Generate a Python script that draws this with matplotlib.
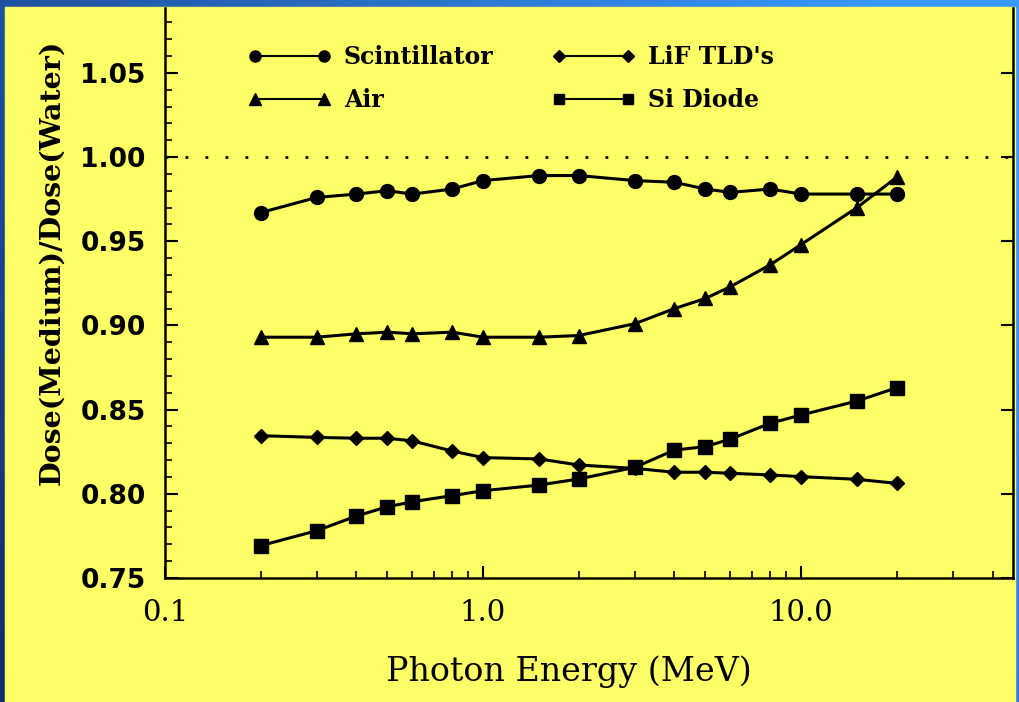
import numpy as np
import matplotlib
matplotlib.use("Agg")
import matplotlib.pyplot as plt
from matplotlib.lines import Line2D
from matplotlib.ticker import FixedLocator, NullFormatter

# ---- data ----
energy = [0.2, 0.3, 0.4, 0.5, 0.6, 0.8, 1.0, 1.5, 2.0, 3.0, 4.0, 5.0, 6.0, 8.0, 10.0, 15.0, 20.0]
scintillator = [0.967, 0.976, 0.978, 0.980, 0.978, 0.981, 0.986, 0.989, 0.989, 0.986, 0.985, 0.981, 0.979, 0.981, 0.978, 0.978, 0.978]
air = [0.893, 0.893, 0.895, 0.896, 0.895, 0.896, 0.893, 0.893, 0.894, 0.901, 0.910, 0.916, 0.923, 0.936, 0.948, 0.970, 0.988]
lif_tld = [0.8345, 0.8335, 0.833, 0.833, 0.8314, 0.8254, 0.8215, 0.8207, 0.8171, 0.8151, 0.8128, 0.8128, 0.8122, 0.8112, 0.8102, 0.8086, 0.8062]
si_diode = [0.7692, 0.7781, 0.7868, 0.7923, 0.7953, 0.7989, 0.8018, 0.8052, 0.8088, 0.8157, 0.826, 0.828, 0.8325, 0.8419, 0.8468, 0.8551, 0.863]
series_names = ["Scintillator", "Air", "LiF TLD's", "Si Diode"]
y_ticks = [0.75, 0.80, 0.85, 0.90, 0.95, 1.00, 1.05]
y_tick_labels = ["0.75", "0.80", "0.85", "0.90", "0.95", "1.00", "1.05"]
x_ticks = [0.1, 1.0, 10.0]
x_tick_labels = ["0.1", "1.0", "10.0"]
reference_level = 1.00

W, H = 1019, 702
fig = plt.figure(figsize=(W / 100, H / 100), dpi=100)

# background gradient (blue frame)
bg = fig.add_axes([0, 0, 1, 1], zorder=-10)
gx = np.linspace(0, 1, 200)[None, :]
gy = np.linspace(0, 1, 140)[:, None]
c0 = np.array([0.07, 0.17, 0.42])
c1 = np.array([0.22, 0.60, 1.00])
t = np.clip(0.75 * gx + 0.35 * (1 - gy), 0, 1)
img = c0[None, None, :] * (1 - t[..., None]) + c1[None, None, :] * t[..., None]
bg.imshow(img, extent=[0, 1, 0, 1], aspect="auto", origin="upper")
bg.add_patch(plt.Rectangle((5 / W, 0), (1015 - 5) / W, (H - 7) / H, color="#ffff66", transform=bg.transAxes))
bg.set_xlim(0, 1); bg.set_ylim(0, 1)
bg.axis("off")

left, right, bottom_px, top_px = 165, 1013, 578, 8
ax = fig.add_axes([left / W, (H - bottom_px) / H, (right - left) / W, (bottom_px - top_px) / H])
ax.set_facecolor("none")

ax.set_xscale("log")
ax.set_xlim(0.1, 46.4)
ax.set_ylim(0.75, 1.0885)

ax.axhline(reference_level, color="black", lw=2, linestyle=(0, (1, 6.2)), zorder=1)

kw = dict(color="black", lw=2.2)
ax.plot(energy, scintillator, marker="o", ms=10, **kw)
ax.plot(energy, air, marker="^", ms=10, **kw)
ax.plot(energy, lif_tld, marker="D", ms=7.5, **kw)
ax.plot(energy, si_diode, marker="s", ms=9.5, **kw)

# ticks
ax.yaxis.set_major_locator(FixedLocator(y_ticks))
ax.set_yticklabels(y_tick_labels, fontfamily="DejaVu Sans", fontweight="bold", fontsize=19)
ax.yaxis.set_minor_locator(FixedLocator(np.round(np.arange(0.75, 1.089, 0.01), 2)))
ax.xaxis.set_major_locator(FixedLocator(x_ticks))
ax.set_xticklabels(x_tick_labels, fontfamily="DejaVu Serif", fontsize=21)
minors = [m * d for d in (0.1, 1, 10) for m in range(2, 10) if m * d < 46]
ax.xaxis.set_minor_locator(FixedLocator(minors))
ax.xaxis.set_minor_formatter(NullFormatter())
ax.tick_params(axis="both", which="major", direction="in", length=9, width=1.5, colors="black")
ax.tick_params(axis="both", which="minor", direction="in", length=5, width=1.2)
ax.tick_params(axis="y", which="both", right=True, pad=14)
ax.tick_params(axis="x", which="both", pad=15)
ax.tick_params(axis="y", which="minor", right=False)

for s in ["left", "bottom", "right"]:
    ax.spines[s].set_linewidth(1.8)
ax.spines["top"].set_visible(False)

ax.set_xlabel("Photon Energy (MeV)", fontfamily="DejaVu Serif", fontsize=24)
ax.xaxis.label.set_verticalalignment("center")
ax.xaxis.set_label_coords((569 - left) / (right - left), -(672 - bottom_px) / (bottom_px - top_px))
ax.set_ylabel("Dose(Medium)/Dose(Water)", fontfamily="DejaVu Serif", fontweight="bold", fontsize=20.5)
ax.yaxis.label.set_verticalalignment("center")
ax.yaxis.set_label_coords(-(left - 52) / (right - left), (bottom_px - 262) / (bottom_px - top_px))

handles = [
    Line2D([], [], marker="o", ms=8, color="black", lw=1.5),
    Line2D([], [], marker="^", ms=8, color="black", lw=1.5),
    Line2D([], [], marker="D", ms=6, color="black", lw=1.5),
    Line2D([], [], marker="s", ms=7.5, color="black", lw=1.5),
]
leg = ax.legend(handles, series_names, ncol=2, loc="upper left",
                bbox_to_anchor=((248 - left) / (right - left), (bottom_px - 45) / (bottom_px - top_px)),
                frameon=False, numpoints=2, handlelength=3.5, handletextpad=0.55,
                columnspacing=2.5, labelspacing=0.8, borderpad=0, borderaxespad=0,
                prop=dict(family="DejaVu Serif", weight="bold", size=17))

fig.savefig("out.png", dpi=100)
